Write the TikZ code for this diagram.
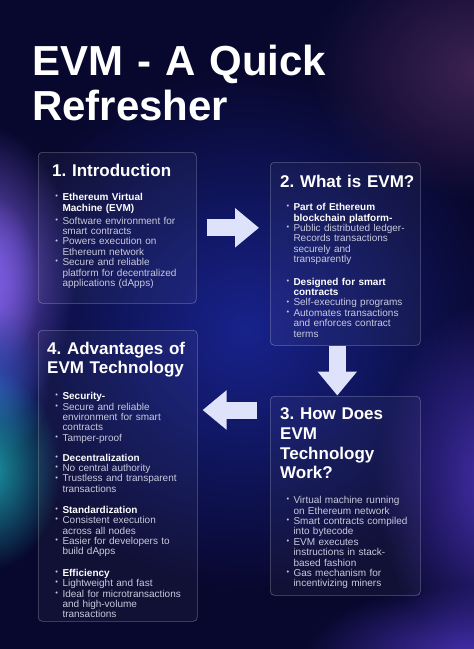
\documentclass[tikz,border=0pt]{standalone}
\usepackage{fontspec}
\setmainfont{Liberation Sans}
\usetikzlibrary{arrows.meta,fadings}
\frenchspacing

\definecolor{bgnavy}{HTML}{08082E}
\definecolor{glowblue}{HTML}{18238C}
\definecolor{glowviolet}{HTML}{7A5CE0}
\definecolor{glowcobalt}{HTML}{2F4FB8}
\definecolor{glowteal}{HTML}{1A94A2}
\definecolor{glowindigo}{HTML}{4630B0}
\definecolor{glowplum}{HTML}{3E2352}
\definecolor{bodygrey}{HTML}{C8C9DC}
\definecolor{arrowfill}{HTML}{DEE2FA}

\tikzfading[name=glowfade, inner color=transparent!0, outer color=transparent!100]

% bullet items: plain and bold
\newcommand{\itm}[1]{\par\noindent\hangindent=7pt\hangafter=1\makebox[7pt][l]{\raisebox{1.8pt}{\fontsize{7.5}{7.5}\selectfont\textbullet}}\rule{0pt}{8pt}#1}
\newcommand{\itmb}[1]{\itm{{\color{white}\bfseries #1}}}
\newcommand{\grp}[1]{\par\vspace{#1}}

\tikzset{
  card/.style={draw=white, draw opacity=0.3, fill=white, fill opacity=0.04,
    rounded corners=4pt, line width=0.6pt, anchor=north west, inner sep=0pt},
  heading/.style={text=white, font=\bfseries\fontsize{17}{19.7}\selectfont,
    text width=170pt, anchor=north west, inner sep=0pt},
  bodytext/.style={text=bodygrey, font=\fontsize{10}{10.4}\selectfont,
    text width=150pt, anchor=north west, inner sep=0pt},
  blockarrow/.style={draw=arrowfill, line width=17pt,
    -{Triangle[width=38pt,length=24pt]}},
  glow/.style={fill=#1, path fading=glowfade},
}

\begin{document}
\begin{tikzpicture}[x=1pt, y=-1pt]
  \useasboundingbox (0,0) rectangle (474,649);

  % Background and glows
  \begin{scope}
    \clip (0,0) rectangle (474,649);
    \fill [bgnavy] (0,0) rectangle (474,649);
    \path [glow=glowblue] (245,330) ellipse [x radius=260, y radius=260];
    \path [glow=glowviolet] (-15,275) ellipse [x radius=90, y radius=150];
    \path [glow=glowviolet] (-10,285) ellipse [x radius=50, y radius=90];
    \path [glow=glowcobalt] (-10,385) ellipse [x radius=60, y radius=75];
    \path [glow=glowteal] (-10,470) ellipse [x radius=70, y radius=100];
    \path [glow=glowindigo] (495,480) ellipse [x radius=120, y radius=180];
    \path [glow=glowplum] (480,70) ellipse [x radius=170, y radius=130];
    \path [glow=glowindigo] (474,655) ellipse [x radius=170, y radius=70];
  \end{scope}

  % Title
  \node [text=white, font=\bfseries\fontsize{42}{45}\selectfont, text width=400pt,
    anchor=north west, inner sep=0pt] (title) at (32,43)
    {\rule{0pt}{32pt}EVM - A Quick\newline Refresher\par};

  % Cards
  \node [card, minimum width=158pt, minimum height=151pt] (intro) at (38,152) {};
  \node [card, minimum width=150pt, minimum height=183pt] (whatis) at (270,162) {};
  \node [card, minimum width=150pt, minimum height=199pt] (howworks) at (270,396) {};
  \node [card, minimum width=159pt, minimum height=291pt] (advantages) at (38,330) {};

  % 1. Introduction
  \node [heading] (intro-head) at (52,163) {\rule{0pt}{13pt}1. Introduction\par};
  \node [bodytext] (intro-body) at (55.3,190) {%
    \itmb{Ethereum Virtual\newline Machine (EVM)}\grp{2.6pt}
    \itm{Software environment for\newline smart contracts}
    \itm{Powers execution on\newline Ethereum network}
    \itm{Secure and reliable\newline platform for decentralized\newline applications (dApps)}\par};

  % 2. What is EVM?
  \node [heading] (whatis-head) at (280,174) {\rule{0pt}{13pt}2. What is EVM?\par};
  \node [bodytext] (whatis-body) at (286.3,200) {%
    \itmb{Part of Ethereum\newline blockchain platform-}
    \itm{Public distributed ledger-\newline Records transactions\newline securely and\newline transparently}\grp{12pt}
    \itmb{Designed for smart\newline contracts}
    \itm{Self-executing programs}
    \itm{Automates transactions\newline and enforces contract\newline terms}\par};

  % 3. How Does EVM Technology Work?
  \node [heading] (howworks-head) at (280,406.5)
    {\rule{0pt}{13pt}3. How Does\newline EVM\newline Technology\newline Work?\par};
  \node [bodytext] (howworks-body) at (286.3,493) {%
    \itm{Virtual machine running\newline on Ethereum network}
    \itm{Smart contracts compiled\newline into bytecode}
    \itm{EVM executes\newline instructions in stack-\newline based fashion}
    \itm{Gas mechanism for\newline incentivizing miners}\par};

  % 4. Advantages of EVM Technology
  \node [heading] (advantages-head) at (47,341)
    {\rule{0pt}{13pt}4. Advantages of\newline EVM Technology\par};
  \node [bodytext] (advantages-body) at (55.3,389) {%
    \itmb{Security-}
    \itm{Secure and reliable\newline environment for smart\newline contracts}
    \itm{Tamper-proof}\grp{9.5pt}
    \itmb{Decentralization}
    \itm{No central authority}
    \itm{Trustless and transparent\newline transactions}\grp{10.5pt}
    \itmb{Standardization}
    \itm{Consistent execution\newline across all nodes}
    \itm{Easier for developers to\newline build dApps}\grp{11pt}
    \itmb{Efficiency}
    \itm{Lightweight and fast}
    \itm{Ideal for microtransactions\newline and high-volume\newline transactions}\par};

  % Arrows between cards
  \draw [blockarrow, shorten <=10pt, shorten >=11pt]
    (intro.east) -- (intro.east -| whatis.west);
  \draw [blockarrow, shorten >=0.5pt]
    ([xshift=-8pt]whatis.south) -- ([xshift=-8pt]howworks.north);
  \draw [blockarrow, shorten <=13pt, shorten >=5pt]
    ([yshift=-14pt]howworks.north west) -- ([yshift=-14pt]howworks.north west -| advantages.east);
\end{tikzpicture}
\end{document}
